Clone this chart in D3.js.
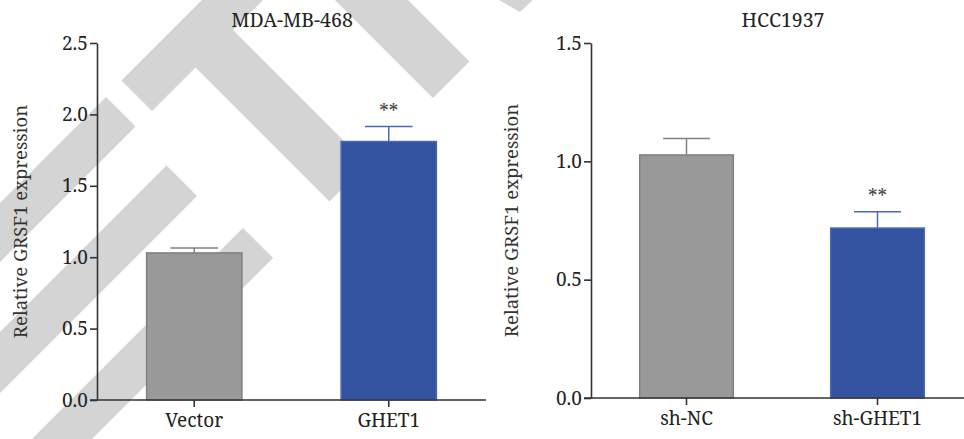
<!DOCTYPE html>
<html>
<head>
<meta charset="utf-8">
<script src="https://cdn.jsdelivr.net/npm/d3@7"></script>
<style>
  html, body { margin: 0; padding: 0; background: #fff; }
  svg { display: block; }
  text { font-family: "Noto Serif", serif; fill: #222; }
</style>
</head>
<body>
<svg id="chart" width="964" height="439"></svg>
<script>
// ---- data ----
const leftTitle = "MDA-MB-468";
const leftCategories = ["Vector", "GHET1"];
const leftValues = [1.03, 1.81];
const leftErrors = [0.035, 0.105];
const leftSignif = ["", "**"];
const leftTicks = [0, 0.5, 1.0, 1.5, 2.0, 2.5];

const rightTitle = "HCC1937";
const rightCategories = ["sh-NC", "sh-GHET1"];
const rightValues = [1.027, 0.718];
const rightErrors = [0.07, 0.069];
const rightSignif = ["", "**"];
const rightTicks = [0, 0.5, 1.0, 1.5];

const yLabel = "Relative GRSF1 expression";

// ---- styles ----
const fills = ["#999999", "#3352a0"];
const strokes = ["#808080", "#4a68b4"];
const errColors = ["#808080", "#4a68b8"];
const axisColor = "#333";
const FONT = '"Noto Serif", serif';

const svg = d3.select("#chart");

// ---- watermark (decorative background bands) ----
const wm = svg.append("g").attr("fill", "#d4d4d4");
const wmShapes = [
  [[121.5,80.5],[152,111],[195.5,67.5],[329.5,201.5],[367,164],[233,30],[283,-20],[222,-20]],
  [[433,98],[469.5,61.5],[388,-20],[315,-20]],
  [[490,-5],[538,-5],[520,12]],
  [[106,97],[135.5,126.5],[-60,322],[-60,263]],
  [[166.5,165.5],[197,196],[-60,453],[-60,392]],
  [[243,228],[273,258],[-60,591],[-60,531]]
];
wm.selectAll("polygon").data(wmShapes).join("polygon")
  .attr("points", d => d.map(p => p.join(",")).join(" "));

function panel(cfg) {
  const g = svg.append("g");
  const y = d3.scaleLinear().domain([cfg.ticks[0], cfg.ticks[cfg.ticks.length - 1]])
    .range([cfg.y0, cfg.y1]);
  const x = d3.scaleBand().domain(cfg.categories).range([cfg.x0, cfg.x1]).padding(0);
  const bw = x.bandwidth() * 0.49;
  const cw = x.bandwidth() * 0.245;

  const data = cfg.categories.map((c, i) => ({
    c, i, v: cfg.values[i], e: cfg.errors[i], s: cfg.signif[i]
  }));

  // error bars (upper only)
  const eb = g.append("g");
  eb.selectAll("line.stem").data(data).join("line")
    .attr("x1", d => x(d.c) + x.bandwidth() / 2)
    .attr("x2", d => x(d.c) + x.bandwidth() / 2)
    .attr("y1", d => y(d.v))
    .attr("y2", d => y(d.v + d.e))
    .attr("stroke", d => errColors[d.i]).attr("stroke-width", 1.5);
  eb.selectAll("line.cap").data(data).join("line")
    .attr("x1", d => x(d.c) + x.bandwidth() / 2 - cw / 2)
    .attr("x2", d => x(d.c) + x.bandwidth() / 2 + cw / 2)
    .attr("y1", d => y(d.v + d.e))
    .attr("y2", d => y(d.v + d.e))
    .attr("stroke", d => errColors[d.i]).attr("stroke-width", 1.5);

  // bars
  g.selectAll("rect.bar").data(data).join("rect")
    .attr("x", d => x(d.c) + (x.bandwidth() - bw) / 2)
    .attr("width", bw)
    .attr("y", d => y(d.v))
    .attr("height", d => y(0) - y(d.v))
    .attr("fill", d => fills[d.i])
    .attr("stroke", d => strokes[d.i])
    .attr("stroke-width", 1.5);

  // significance
  g.selectAll("text.sig").data(data.filter(d => d.s)).join("text")
    .attr("x", d => x(d.c) + x.bandwidth() / 2)
    .attr("y", d => y(d.v + d.e) - 9)
    .attr("text-anchor", "middle")
    .attr("font-family", FONT)
    .style("font-size", "19px")
    .style("fill", "#444")
    .text(d => d.s);

  // y axis
  const ya = g.append("g").attr("transform", `translate(${cfg.x0},0)`)
    .call(d3.axisLeft(y).tickValues(cfg.ticks).tickFormat(d3.format(".1f"))
      .tickSize(7).tickPadding(2).tickSizeOuter(0));
  ya.attr("font-family", FONT).attr("font-size", 19);
  ya.select(".domain").attr("stroke", axisColor).attr("stroke-width", 1.6);
  ya.selectAll(".tick line").attr("stroke", axisColor).attr("stroke-width", 1.6);
  ya.selectAll(".tick text").attr("fill", "#222");

  // x axis
  const xa = g.append("g").attr("transform", `translate(0,${cfg.y0})`)
    .call(d3.axisBottom(x).tickSize(7).tickPadding(7).tickSizeOuter(0));
  xa.attr("font-family", FONT).attr("font-size", 19);
  xa.select(".domain").attr("stroke", axisColor).attr("stroke-width", 1.6)
    .attr("d", `M${cfg.x0 - 7},0H${cfg.x1}`);
  xa.selectAll(".tick line").attr("stroke", axisColor).attr("stroke-width", 1.6);
  xa.selectAll(".tick text").attr("fill", "#222");

  // title
  g.append("text").attr("x", cfg.titleX).attr("y", 27)
    .attr("text-anchor", "middle").attr("font-family", FONT)
    .style("font-size", "19.5px").text(cfg.title);

  // y label
  g.append("text")
    .attr("transform", `translate(${cfg.labelX},${(cfg.y0 + cfg.y1) / 2}) rotate(-90)`)
    .attr("text-anchor", "middle").attr("font-family", FONT)
    .style("font-size", "18.5px").style("fill", "#333")
    .text(yLabel);
}

panel({
  title: leftTitle, categories: leftCategories, values: leftValues,
  errors: leftErrors, signif: leftSignif, ticks: leftTicks,
  x0: 97, x1: 486, y0: 400, y1: 43, titleX: 292, labelX: 27
});
panel({
  title: rightTitle, categories: rightCategories, values: rightValues,
  errors: rightErrors, signif: rightSignif, ticks: rightTicks,
  x0: 591, x1: 973, y0: 398, y1: 43, titleX: 783, labelX: 518
});
</script>
</body>
</html>
